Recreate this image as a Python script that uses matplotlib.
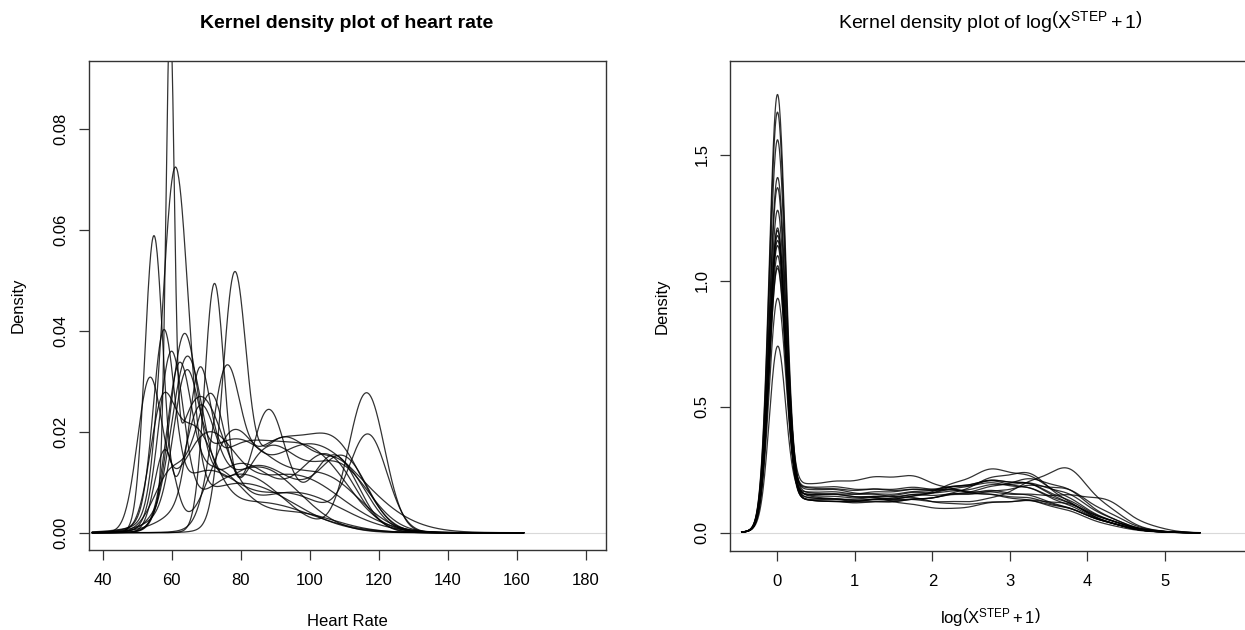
import numpy as np
import matplotlib.pyplot as plt

plt.rcParams['font.family'] = ['Liberation Sans', 'DejaVu Sans']
plt.rcParams['mathtext.fontset'] = 'custom'
plt.rcParams['mathtext.rm'] = 'Liberation Sans'
plt.rcParams['mathtext.it'] = 'Liberation Sans:italic'
plt.rcParams['mathtext.bf'] = 'Liberation Sans:bold'

# heart rate densities: bumps (centre, peak height, width)
hr_curves = [
    [(59.5, 0.090, 1.2), (68, 0.0257, 7), (95, 0.008, 14)],
    [(61, 0.068, 3.7), (80, 0.0098, 15)],
    [(54.8, 0.058, 2.6), (68, 0.0204, 4.5), (85, 0.013, 12)],
    [(72.3, 0.047, 2.8), (88, 0.016, 8), (108, 0.0133, 9)],
    [(78.1, 0.046, 3.3), (92, 0.0185, 9), (110, 0.0114, 7)],
    [(53.5, 0.0285, 3.5), (70, 0.0175, 8), (95, 0.0114, 14)],
    [(57.6, 0.0346, 3.0), (70, 0.012, 10), (95, 0.0072, 10), (117, 0.0189, 5.5)],
    [(63.5, 0.0359, 4.0), (80, 0.0136, 10), (105, 0.015, 8)],
    [(59.8, 0.0331, 3.5), (80, 0.0116, 12), (116.5, 0.0276, 5.2)],
    [(64.3, 0.0319, 4.5), (85, 0.0133, 12), (110, 0.0137, 7)],
    [(75.6, 0.0269, 4.0), (90, 0.0172, 10), (108, 0.015, 8)],
    [(64, 0.0228, 3.5), (78, 0.0183, 12), (105, 0.010, 10)],
    [(68, 0.0226, 3.0), (80, 0.0166, 12), (102, 0.0132, 10)],
    [(60, 0.012, 5), (71.5, 0.0266, 4.5), (88, 0.024, 5), (107, 0.0154, 7)],
    [(58, 0.016, 3), (77, 0.0146, 6), (100, 0.0176, 15)],
    [(57, 0.020, 3.5), (66, 0.018, 6), (85, 0.006, 15)],
    [(62, 0.028, 3.5), (72, 0.012, 8), (95, 0.004, 12)],
]

# step densities: peak height at 0 and plateau level at each knot
step_knots = [0.25, 0.75, 1.25, 1.75, 2.25, 2.75, 3.25, 3.75, 4.25, 4.75]
step_peaks = [1.74, 1.67, 1.56, 1.41, 1.37, 1.28, 1.21, 1.18, 1.16, 1.14,
              1.06, 1.05, 0.93, 0.74, 1.20, 1.10]
step_levels = [
    [0.16, 0.13, 0.13, 0.14, 0.18, 0.21, 0.18, 0.11, 0.04, 0.005],
    [0.14, 0.12, 0.13, 0.15, 0.17, 0.21, 0.20, 0.12, 0.04, 0.005],
    [0.17, 0.15, 0.14, 0.15, 0.15, 0.17, 0.15, 0.10, 0.04, 0.005],
    [0.20, 0.20, 0.22, 0.23, 0.17, 0.15, 0.13, 0.09, 0.03, 0.004],
    [0.15, 0.13, 0.13, 0.14, 0.19, 0.26, 0.23, 0.14, 0.05, 0.008],
    [0.18, 0.17, 0.15, 0.14, 0.11, 0.12, 0.13, 0.10, 0.04, 0.005],
    [0.16, 0.14, 0.14, 0.16, 0.16, 0.19, 0.20, 0.16, 0.06, 0.008],
    [0.14, 0.12, 0.13, 0.13, 0.15, 0.18, 0.22, 0.18, 0.06, 0.008],
    [0.19, 0.18, 0.17, 0.17, 0.17, 0.15, 0.14, 0.10, 0.04, 0.005],
    [0.15, 0.13, 0.12, 0.13, 0.15, 0.16, 0.19, 0.18, 0.08, 0.010],
    [0.16, 0.15, 0.14, 0.11, 0.09, 0.12, 0.13, 0.12, 0.05, 0.008],
    [0.14, 0.13, 0.14, 0.13, 0.12, 0.13, 0.20, 0.28, 0.10, 0.010],
    [0.19, 0.17, 0.17, 0.18, 0.17, 0.16, 0.15, 0.15, 0.14, 0.030],
    [0.17, 0.16, 0.15, 0.16, 0.18, 0.21, 0.20, 0.13, 0.05, 0.008],
    [0.14, 0.12, 0.12, 0.13, 0.15, 0.22, 0.25, 0.12, 0.04, 0.005],
    [0.16, 0.15, 0.16, 0.17, 0.18, 0.20, 0.18, 0.12, 0.05, 0.008],
]

hr_ticks = [40, 60, 80, 100, 120, 140, 160, 180]
hr_yticks = [0.00, 0.02, 0.04, 0.06, 0.08]
step_ticks = [0, 1, 2, 3, 4, 5]
step_yticks = [0.0, 0.5, 1.0, 1.5]


def bumps(x, parts):
    y = np.zeros_like(np.asarray(x, dtype=float))
    for c, h, s in parts:
        y = y + h * np.exp(-0.5 * ((x - c) / s) ** 2)
    return y


fig = plt.figure(figsize=(12.45, 6.3), dpi=100)
ax1 = fig.add_axes([89 / 1245, 80 / 630, 517 / 1245, 489 / 630])
ax2 = fig.add_axes([729.5 / 1245, 79.3 / 630, 522.5 / 1245, 489.7 / 630])

line_kw = dict(color='black', lw=0.9, alpha=0.8)

# left panel
x_hr = np.linspace(37, 162, 800)
ax1.axhline(0, color='#d9d9d9', lw=0.8, zorder=0)
for parts in hr_curves:
    ax1.plot(x_hr, bumps(x_hr, parts), **line_kw)
ax1.set_xlim(36.0, 185.9)
ax1.set_ylim(-0.00343, 0.0934)
ax1.set_xticks(hr_ticks)
ax1.set_yticks(hr_yticks)
ax1.set_yticklabels([f"{v:.2f}" for v in hr_yticks])
ax1.set_xlabel("Heart Rate", fontsize=12, va='center')
ax1.set_ylabel("Density", fontsize=12, va='center')
ax1.xaxis.set_label_coords(0.5, -0.147)
ax1.yaxis.set_label_coords(-0.137, 0.5)

# right panel
x_st = np.linspace(-0.46, 5.45, 900)
ax2.axhline(0, color='#d9d9d9', lw=0.8, zorder=0)
for pk, lev in zip(step_peaks, step_levels):
    plateau = [(k, v / 1.253, 0.25) for k, v in zip(step_knots, lev)]
    spike = pk - bumps(np.array([0.0]), plateau)[0]
    ax2.plot(x_st, bumps(x_st, [(0.0, spike, 0.105)] + plateau), **line_kw)
ax2.set_xlim(-0.617, 6.125)
ax2.set_ylim(-0.0714, 1.873)
ax2.set_xticks(step_ticks)
ax2.set_yticks(step_yticks)
ax2.set_yticklabels([f"{v:.1f}" for v in step_yticks])
ax2.set_xlabel(r"$\mathrm{log}\left(\mathrm{X}^{\mathrm{STEP}}+1\right)$",
               fontsize=12, va='center')
ax2.set_ylabel("Density", fontsize=12, va='center')
ax2.xaxis.set_label_coords(0.5, -0.137)
ax2.yaxis.set_label_coords(-0.129, 0.5)

for ax in (ax1, ax2):
    for sp in ax.spines.values():
        sp.set_color('#333333')
        sp.set_linewidth(1.0)
    ax.tick_params(direction='out', length=7.5, width=0.9, color='#333333',
                   labelsize=12, pad=9)
    ax.tick_params(axis='y', labelrotation=90, pad=7)
    for lab in ax.get_yticklabels():
        lab.set_va('center')

fig.text(347 / 1245, 1 - 24 / 630, "Kernel density plot of heart rate",
         ha='center', va='center', fontsize=14, fontweight='bold')
fig.text(990 / 1245, 1 - 21 / 630,
         r"Kernel density plot of $\mathrm{log}\left(\mathrm{X}^{\mathrm{STEP}}+1\right)$",
         ha='center', va='center', fontsize=14)

fig.savefig("out.png", dpi=100)
